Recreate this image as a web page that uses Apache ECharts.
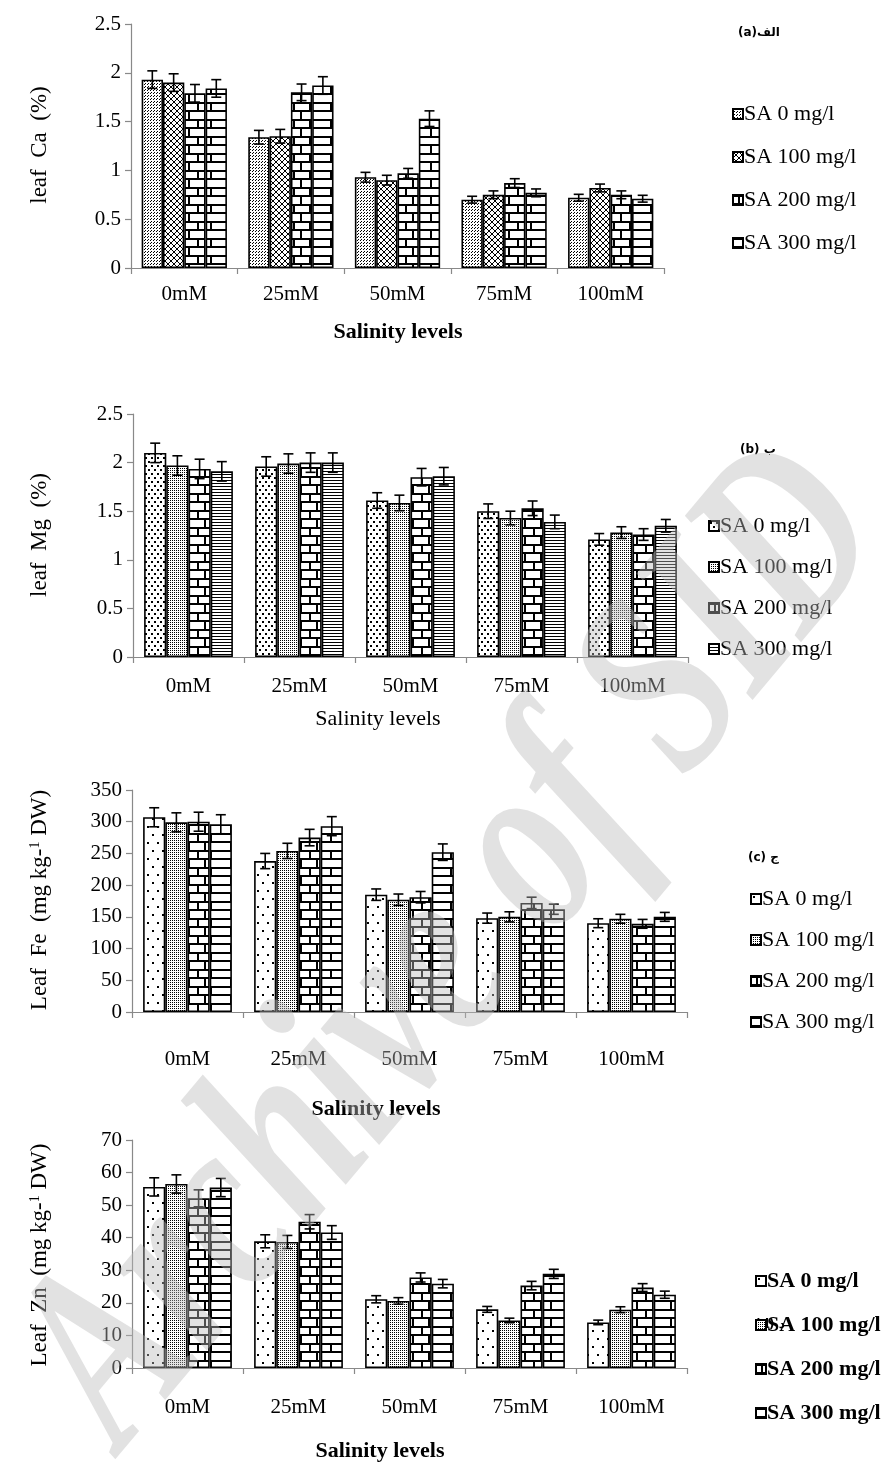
<!DOCTYPE html>
<html><head><meta charset="utf-8">
<script src="https://cdn.jsdelivr.net/npm/echarts@6/dist/echarts.min.js"></script>
<style>html,body{margin:0;padding:0;background:#fff}#c{width:889px;height:1463px}</style>
</head><body><div id="c"></div>
<script>
// ---------- data ----------
const categories = ['0mM', '25mM', '50mM', '75mM', '100mM'];
const seriesNames = ['SA 0 mg/l', 'SA 100 mg/l', 'SA 200 mg/l', 'SA 300 mg/l'];

// (a) leaf Ca (%)
const caSA0   = [1.93, 1.34, 0.93, 0.70, 0.72];
const caSA100 = [1.90, 1.35, 0.90, 0.75, 0.82];
const caSA200 = [1.79, 1.80, 0.97, 0.87, 0.75];
const caSA300 = [1.84, 1.87, 1.53, 0.77, 0.71];
const caErr0   = [0.09, 0.07, 0.05, 0.035, 0.035];
const caErr100 = [0.09, 0.07, 0.05, 0.04, 0.04];
const caErr200 = [0.09, 0.085, 0.05, 0.045, 0.04];
const caErr300 = [0.09, 0.09, 0.08, 0.04, 0.035];
const caTicks = [0, 0.5, 1, 1.5, 2, 2.5];

// (b) leaf Mg (%)
const mgSA0   = [2.10, 1.96, 1.61, 1.50, 1.21];
const mgSA100 = [1.97, 1.99, 1.585, 1.43, 1.28];
const mgSA200 = [1.935, 2.00, 1.85, 1.53, 1.26];
const mgSA300 = [1.91, 2.00, 1.86, 1.39, 1.35];
const mgErr0   = [0.10, 0.10, 0.08, 0.075, 0.06];
const mgErr100 = [0.10, 0.10, 0.08, 0.07, 0.06];
const mgErr200 = [0.10, 0.10, 0.09, 0.075, 0.06];
const mgErr300 = [0.10, 0.10, 0.09, 0.07, 0.065];
const mgTicks = [0, 0.5, 1, 1.5, 2, 2.5];

// (c) Leaf Fe (mg kg-1 DW)
const feSA0   = [307, 238, 185, 148, 140];
const feSA100 = [299, 254, 177, 150, 147];
const feSA200 = [300, 275, 181, 172, 139];
const feSA300 = [296, 293, 252, 162, 150];
const feErr0   = [15, 12, 9, 8, 7];
const feErr100 = [15, 12, 9, 8, 7];
const feErr200 = [15, 13, 9, 9, 7];
const feErr300 = [15, 15, 13, 8, 7];
const feTicks = [0, 50, 100, 150, 200, 250, 300, 350];

// (d) Leaf Zn (mg kg-1 DW)
const znSA0   = [55.6, 38.9, 21.1, 18.0, 14.0];
const znSA100 = [56.5, 38.7, 20.6, 14.6, 17.9];
const znSA200 = [52.1, 44.9, 27.8, 25.3, 24.7];
const znSA300 = [55.4, 41.6, 25.9, 28.9, 22.5];
const znErr0   = [2.8, 2.0, 1.1, 0.9, 0.7];
const znErr100 = [2.8, 2.0, 1.0, 0.7, 0.9];
const znErr200 = [2.6, 2.2, 1.4, 1.3, 1.2];
const znErr300 = [2.8, 2.1, 1.3, 1.4, 1.1];
const znTicks = [0, 10, 20, 30, 40, 50, 60, 70];

// ---------- patterns ----------
function pat(w, h, fn) {
  const c = document.createElement('canvas'); c.width = w; c.height = h;
  const g = c.getContext('2d');
  g.fillStyle = '#fff'; g.fillRect(0, 0, w, h);
  g.fillStyle = '#000'; g.strokeStyle = '#000';
  fn(g, w, h);
  return { image: c, repeat: 'repeat' };
}
const P = {
  fineDots: pat(3, 3, g => { g.fillRect(0, 0, 1, 1); g.fillRect(1, 2, 1, 1); }),
  cross: pat(6, 6, g => { g.lineWidth = 1; g.beginPath(); g.moveTo(0, 0); g.lineTo(6, 6); g.moveTo(6, 0); g.lineTo(0, 6); g.stroke(); }),
  sparseDots: pat(10, 16, g => { g.fillRect(2, 2, 2, 2); g.fillRect(7, 10, 2, 2); }),
  medDots: pat(6, 8, g => { g.fillRect(1, 1, 2, 2); g.fillRect(4, 5, 2, 2); }),
  denseDots: pat(2, 2, g => { g.fillRect(0, 0, 1, 1); }),
  bricks: pat(16, 17, g => { g.fillRect(0, 0, 16, 2); g.fillRect(0, 8, 16, 2); g.fillRect(5, 0, 2, 9); g.fillRect(12, 8, 2, 9); }),
  wideBricks: pat(40, 17, g => { g.fillRect(0, 0, 40, 2); g.fillRect(0, 8, 40, 2); g.fillRect(10, 0, 2, 9); g.fillRect(30, 8, 2, 9); }),
  hLines: pat(4, 3, g => { g.fillRect(0, 0, 4, 1); })
};

// ---------- panels ----------
const SERIF = '"Liberation Serif", "Times New Roman", serif';
const panels = [
  { key: 'a', vals: [caSA0, caSA100, caSA200, caSA300], errs: [caErr0, caErr100, caErr200, caErr300], ticks: caTicks,
    pats: [P.fineDots, P.cross, P.bricks, P.wideBricks],
    grid: { left: 131, top: 24, width: 533, height: 244 }, labelMargin: 16,
    legend: { left: 727, top: 98, gap: 21, bold: false },
    yname: { x: 40, y: 145, text: '{n|leaf  Ca  (%)}' },
    xtitle: { x: 398, y: 332, bold: true },
    tag: { x: 738, y: 33, text: '(a)الف' } },
  { key: 'b', vals: [mgSA0, mgSA100, mgSA200, mgSA300], errs: [mgErr0, mgErr100, mgErr200, mgErr300], ticks: mgTicks,
    pats: [P.medDots, P.denseDots, P.bricks, P.hLines],
    grid: { left: 133, top: 414, width: 555, height: 243 }, labelMargin: 19,
    legend: { left: 703, top: 510, gap: 19, bold: false },
    yname: { x: 40, y: 535, text: '{n|leaf  Mg  (%)}' },
    xtitle: { x: 378, y: 719, bold: false },
    tag: { x: 740, y: 450, text: '(b) ب' } },
  { key: 'c', vals: [feSA0, feSA100, feSA200, feSA300], errs: [feErr0, feErr100, feErr200, feErr300], ticks: feTicks,
    pats: [P.sparseDots, P.denseDots, P.bricks, P.wideBricks],
    grid: { left: 132, top: 790, width: 555, height: 222 }, labelMargin: 37,
    legend: { left: 745, top: 883, gap: 19, bold: false },
    yname: { x: 40, y: 900, text: '{n|Leaf  Fe  (mg kg-}{s|1}{n| DW)}' },
    xtitle: { x: 376, y: 1109, bold: true },
    tag: { x: 748, y: 858, text: '(c) ج' } },
  { key: 'd', vals: [znSA0, znSA100, znSA200, znSA300], errs: [znErr0, znErr100, znErr200, znErr300], ticks: znTicks,
    pats: [P.sparseDots, P.denseDots, P.bricks, P.wideBricks],
    grid: { left: 132, top: 1140, width: 555, height: 228 }, labelMargin: 29,
    legend: { left: 750, top: 1265, gap: 22, bold: true },
    yname: { x: 40, y: 1255, text: '{n|Leaf  Zn  (mg kg-}{s|1}{n| DW)}' },
    xtitle: { x: 380, y: 1451, bold: true },
    tag: { x: 755, y: 1325, text: '(d) د' } }
];

function errRenderer(idx, n) {
  return function (params, api) {
    const cat = api.value(0);
    const pLo = api.coord([cat, api.value(1)]);
    const pHi = api.coord([cat, api.value(2)]);
    const band = api.size([1, 0])[0];
    const barW = band * 0.8 / n;
    const x = pLo[0] - band * 0.4 + barW * (idx + 0.5);
    const cap = 5;
    const st = { stroke: '#000', lineWidth: 1.6 };
    return { type: 'group', children: [
      { type: 'line', shape: { x1: x, y1: pLo[1], x2: x, y2: pHi[1] }, style: st },
      { type: 'line', shape: { x1: x - cap, y1: pLo[1], x2: x + cap, y2: pLo[1] }, style: st },
      { type: 'line', shape: { x1: x - cap, y1: pHi[1], x2: x + cap, y2: pHi[1] }, style: st }
    ]};
  };
}

const option = { backgroundColor: '#fff', animation: false, grid: [], xAxis: [], yAxis: [], series: [], legend: [], graphic: [] };

panels.forEach((p, pi) => {
  option.grid.push(Object.assign({ containLabel: false }, p.grid));
  option.xAxis.push({
    type: 'category', gridIndex: pi, data: categories,
    axisLine: { lineStyle: { color: '#898989', width: 1.2 } },
    axisTick: { show: true, length: 6, lineStyle: { color: '#898989', width: 1.2 } },
    axisLabel: { color: '#000', fontFamily: SERIF, fontSize: 21, margin: p.labelMargin }
  });
  const t = p.ticks;
  option.yAxis.push({
    type: 'value', gridIndex: pi, min: t[0], max: t[t.length - 1], interval: t[1] - t[0],
    splitLine: { show: false },
    axisLine: { show: true, lineStyle: { color: '#898989', width: 1.2 } },
    axisTick: { show: true, length: 6, lineStyle: { color: '#898989', width: 1.2 } },
    axisLabel: { color: '#000', fontFamily: SERIF, fontSize: 21, margin: 10 }
  });
  const names = seriesNames.map(s => p.key + '|' + s);
  p.vals.forEach((v, si) => {
    option.series.push({
      type: 'bar', name: names[si], xAxisIndex: pi, yAxisIndex: pi, data: v,
      barGap: '0%', barCategoryGap: '20%',
      itemStyle: { color: p.pats[si], borderColor: '#000', borderWidth: 1.6 }
    });
  });
  p.vals.forEach((v, si) => {
    option.series.push({
      type: 'custom', name: 'err' + p.key + si, xAxisIndex: pi, yAxisIndex: pi, z: 5,
      renderItem: errRenderer(si, p.vals.length),
      encode: { x: 0, y: [1, 2] },
      data: v.map((val, i) => [i, val - p.errs[si][i], val + p.errs[si][i]])
    });
  });
  option.legend.push({
    data: names, orient: 'vertical', left: p.legend.left, top: p.legend.top,
    itemGap: p.legend.gap, itemWidth: 10, itemHeight: 10, icon: 'rect', selectedMode: false,
    formatter: n => n.split('|')[1],
    textStyle: { color: '#000', fontFamily: SERIF, fontSize: 22, fontWeight: p.legend.bold ? 'bold' : 'normal', padding: [0, 0, 0, -4] }
  });
  option.graphic.push({
    type: 'text', x: p.yname.x, y: p.yname.y, rotation: Math.PI / 2,
    style: { text: p.yname.text, align: 'center', verticalAlign: 'middle',
      rich: { n: { fontFamily: SERIF, fontSize: 23, fill: '#000' },
              s: { fontFamily: SERIF, fontSize: 14, fill: '#000', verticalAlign: 'top', padding: [0, 0, 10, 0] } } }
  });
  option.graphic.push({
    type: 'text', x: p.xtitle.x, y: p.xtitle.y,
    style: { text: 'Salinity levels', align: 'center', verticalAlign: 'middle', fontFamily: SERIF,
      fontSize: 22, fontWeight: p.xtitle.bold ? 'bold' : 'normal', fill: '#000' }
  });
  option.graphic.push({
    type: 'text', x: p.tag.x, y: p.tag.y,
    style: { text: p.tag.text, align: 'left', verticalAlign: 'middle', fontFamily: '"DejaVu Sans", sans-serif',
      fontSize: 12, fontWeight: 'bold', fill: '#000' }
  });
});

// watermark
option.graphic.push({
  type: 'text', x: 455, y: 950, rotation: 50 * Math.PI / 180, scaleX: 0.74, z: 100, silent: true,
  style: { text: 'Archive of SID', align: 'center', verticalAlign: 'middle',
    fontFamily: SERIF, fontSize: 260, fontWeight: 'bold', fontStyle: 'italic', fill: 'rgba(185,185,185,0.42)' }
});

const chart = echarts.init(document.getElementById('c'), null, { renderer: 'canvas' });
chart.setOption(option);
</script></body></html>
